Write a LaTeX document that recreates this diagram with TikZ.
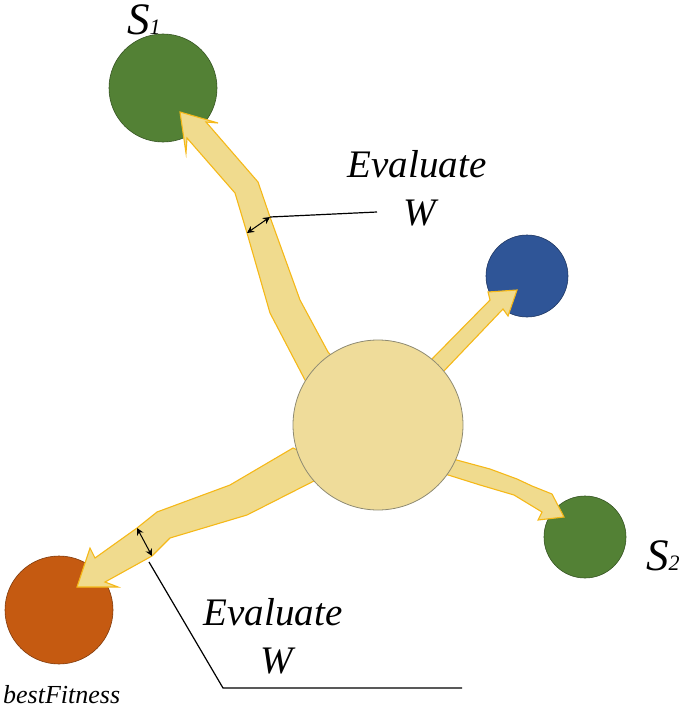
\documentclass[tikz,border=0pt]{standalone}
\usepackage{fontspec}
\setmainfont{Liberation Serif}
\usetikzlibrary{arrows.meta}
\definecolor{sgreen}{HTML}{538135}
\definecolor{sblue}{HTML}{2F5597}
\definecolor{sorange}{HTML}{C55A11}
\definecolor{core}{HTML}{EFDC9A}
\definecolor{coreedge}{HTML}{8E8A72}
\definecolor{flow}{HTML}{F0DB8E}
\definecolor{flowedge}{HTML}{F5B818}
\begin{document}
\begin{tikzpicture}[x=1pt,y=-1pt,
  ball/.style={circle,draw=#1!65!black,fill=#1,line width=0.6pt,inner sep=0},
  flowarrow/.style={fill=flow,draw=flowedge,line width=1.1pt,line join=miter},
  lbl/.style={font=\fontsize{39}{39}\selectfont\itshape,inner sep=0,anchor=base},
  marker/.style={{Stealth[length=7pt,width=7pt]}-{Stealth[length=7pt,width=7pt]},line width=1pt},
  leader/.style={line width=1.2pt}]
\useasboundingbox (0,0) rectangle (685,709);

% target circles
\node[ball=sgreen,minimum size=108pt] (s1) at (163,88) {};
\node[ball=sblue,minimum size=82pt] (sb) at (527,276) {};
\node[ball=sgreen,minimum size=82pt] (s2) at (585,537) {};
\node[ball=sorange,minimum size=108pt] (best) at (59,610) {};

% flow arrows
\draw[flowarrow] (318,400) -- (305,380) -- (270,313) -- (247,233) -- (235,193) -- (187,138)
  -- (186,153) -- (180,112) -- (218,123) -- (206,122) -- (258,182) -- (270,217)
  -- (300,300) -- (328,352) -- (345,370) -- cycle;
\draw[flowarrow] (420,375) -- (432,359) -- (490,300) -- (488,292) -- (517,290) -- (508,316)
  -- (503,309) -- (442,373) -- (430,385) -- cycle;
\draw[flowarrow] (440,450) -- (453,459) -- (490,469) -- (517,479) -- (532,486) -- (552,494)
  -- (564,517) -- (538,520) -- (542,512) -- (514,495) -- (480,485) -- (445,474)
  -- (435,472) -- cycle;
\draw[flowarrow] (320,460) -- (293,448) -- (230,485) -- (157,512) -- (137,528) -- (95,558)
  -- (90,548) -- (77,587) -- (118,587) -- (105,582) -- (152,556) -- (170,538)
  -- (247,515) -- (312,482) -- (325,475) -- cycle;

% central circle
\node[circle,draw=coreedge,fill=core,line width=0.8pt,minimum size=170pt,inner sep=0] (core) at (378,425) {};

% width markers and leaders
\coordinate (m1a) at (247,233);
\coordinate (m1b) at (270,217);
\coordinate (l1) at (377,212);
\draw[marker] (m1a) -- (m1b);
\draw[leader] (m1b) -- (l1);

\coordinate (m2a) at (137,528);
\coordinate (m2b) at (152,556);
\coordinate (l2a) at (149,562);
\coordinate (l2b) at (223,688);
\coordinate (l2c) at (462,688);
\draw[marker] (m2a) -- (m2b);
\draw[leader] (l2a) -- (l2b) -- (l2c);

% labels
\node[lbl] (ev1) at (417,177) {Evaluate};
\node[lbl] (w1) at (420,225) {W};
\node[lbl] (ev2) at (273,625) {Evaluate};
\node[lbl] (w2) at (277,673) {W};
\node[font=\fontsize{26}{26}\selectfont\itshape,inner sep=0,anchor=base west] (bf) at (3,703) {bestFitness};
\node[anchor=base west,inner sep=0] (s1lbl) at (127,35) {\fontsize{45}{45}\selectfont\itshape S\fontsize{22}{22}\selectfont 1};
\node[anchor=base west,inner sep=0] (s2lbl) at (646,570) {\fontsize{45}{45}\selectfont\itshape S\fontsize{22}{22}\selectfont 2};
\end{tikzpicture}
\end{document}
